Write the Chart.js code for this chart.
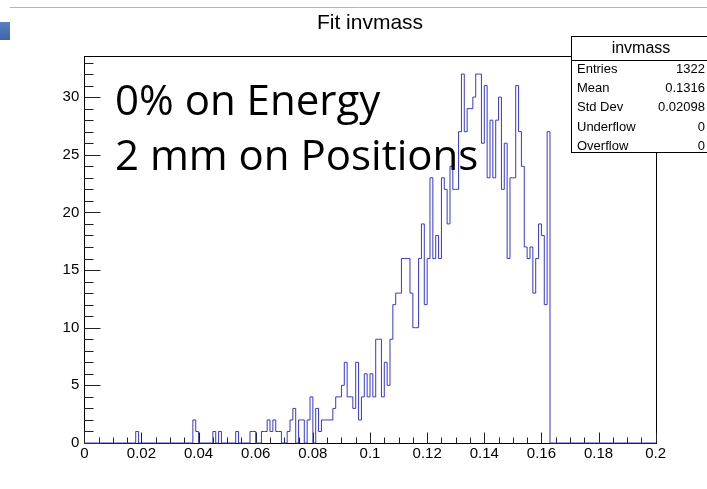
<!DOCTYPE html>
<html>
<head>
<meta charset="utf-8">
<script src="https://cdn.jsdelivr.net/npm/chart.js@4.4.1/dist/chart.umd.min.js"></script>
<style>
  html, body { margin: 0; padding: 0; background: #ffffff; }
  #wrap { width: 707px; height: 489px; position: relative; }
</style>
</head>
<body>
<div id="wrap"><canvas id="c" width="707" height="489"></canvas></div>
<script>
// Histogram definition: 200 bins of width 0.001 between 0 and 0.2
const histTitle = 'Fit invmass';
const histName = 'invmass';
const xMin = 0;
const xMax = 0.2;
const nBins = 200;

// Bin contents, 10 bins per row
const counts = [
  0, 0, 0, 0, 0, 0, 0, 0, 0, 0,
  0, 0, 0, 0, 0, 0, 0, 0, 1, 0,
  0, 0, 0, 0, 0, 0, 0, 0, 0, 0,
  0, 0, 0, 0, 0, 0, 0, 0, 2, 1,
  0, 0, 0, 0, 0, 1, 0, 1, 0, 0,
  0, 0, 0, 1, 0, 0, 0, 0, 1, 1,
  0, 0, 1, 1, 2, 1, 2, 1, 1, 0,
  0, 1, 2, 3, 0, 2, 2, 0, 2, 4,
  0, 3, 1, 2, 2, 2, 2, 3, 4, 4,
  5, 7, 4, 4, 3, 7, 2, 4, 6, 4,
  6, 4, 9, 9, 4, 7, 5, 9, 12, 13,
  13, 16, 16, 16, 13, 10, 10, 16, 19, 12,
  16, 23, 16, 18, 16, 23, 22, 19, 24, 22,
  22, 27, 32, 27, 29, 29, 30, 32, 32, 26,
  31, 23, 28, 23, 28, 30, 22, 26, 16, 23,
  23, 31, 27, 24, 17, 16, 17, 13, 16, 19,
  18, 12, 27, 0, 0, 0, 0, 0, 0, 0,
  0, 0, 0, 0, 0, 0, 0, 0, 0, 0,
  0, 0, 0, 0, 0, 0, 0, 0, 0, 0,
  0, 0, 0, 0, 0, 0, 0, 0, 0, 0
];

// Axis ranges and tick divisions
const yMax = 33.6;
const xMajorStep = 0.02;
const xMinorStep = 0.005;
const yMajorStep = 5;
const yMinorStep = 1;

// Statistics box
const statLabels = ['Entries', 'Mean', 'Std Dev', 'Underflow', 'Overflow'];
const statValues = ['1322', '0.1316', '0.02098', '0', '0'];

// Annotation lines
const noteLines = ['0% on Energy', '2 mm on Positions'];

const AXIS_FONT = '"Liberation Sans", Arial, Helvetica, sans-serif';
const HIST_COLOR = '#3838c4';

// Step outline: one point at each bin's low edge, plus the upper edge of the last bin.
// With stepped 'before' the segment towards the next edge keeps the current bin's height.
const binWidth = (xMax - xMin) / nBins;
const stepPoints = counts.map((v, i) => ({ x: xMin + i * binWidth, y: v }));
stepPoints.push({ x: xMax, y: counts[counts.length - 1] });

// Frame, inward tick marks and page decorations
const frameAndTicks = {
  id: 'frameAndTicks',
  beforeDraw(chart) {
    const ctx = chart.ctx;
    ctx.save();
    ctx.fillStyle = '#ffffff';
    ctx.fillRect(0, 0, chart.width, chart.height);
    // window edge line and side tab
    ctx.strokeStyle = '#b4b4b4';
    ctx.lineWidth = 1;
    ctx.beginPath();
    ctx.moveTo(10, 7.5);
    ctx.lineTo(chart.width, 7.5);
    ctx.stroke();
    const g = ctx.createLinearGradient(0, 22, 0, 40);
    g.addColorStop(0, '#5b7fc2');
    g.addColorStop(1, '#3f63a8');
    ctx.fillStyle = g;
    ctx.fillRect(0, 22, 10, 18);
    ctx.restore();
  },
  beforeDatasetsDraw(chart) {
    const { ctx, chartArea: a, scales } = chart;
    const xs = scales.x, ys = scales.y;
    ctx.save();
    ctx.strokeStyle = '#000000';
    ctx.lineWidth = 1;
    const L = Math.round(a.left) + 0.5, R = Math.round(a.right) + 0.5;
    const T = Math.round(a.top) + 0.5, B = Math.round(a.bottom) + 0.5;
    ctx.strokeRect(L, T, R - L, B - T);

    ctx.strokeStyle = '#222222';
    ctx.beginPath();
    const nx = Math.round((xMax - xMin) / xMinorStep);
    const perMajorX = Math.round(xMajorStep / xMinorStep);
    for (let k = 0; k <= nx; k++) {
      const px = Math.round(xs.getPixelForValue(xMin + k * xMinorStep)) + 0.5;
      const len = (k % perMajorX === 0) ? 11 : 6;
      ctx.moveTo(px, B);
      ctx.lineTo(px, B - len);
    }
    const ny = Math.floor(yMax / yMinorStep);
    for (let k = 0; k <= ny; k++) {
      const v = k * yMinorStep;
      const py = Math.round(ys.getPixelForValue(v)) + 0.5;
      const len = (v % yMajorStep === 0) ? 16 : 9;
      ctx.moveTo(L, py);
      ctx.lineTo(L + len, py);
    }
    ctx.stroke();
    ctx.restore();
  },
  afterDraw(chart) {
    const ctx = chart.ctx;
    ctx.save();
    // histogram title
    ctx.fillStyle = '#000000';
    ctx.font = '21px ' + AXIS_FONT;
    ctx.textAlign = 'center';
    ctx.textBaseline = 'middle';
    ctx.fillText(histTitle, 370, 23);

    // statistics box
    const bx = 571.5, by = 36.5, bw = 150, bh = 116;
    ctx.fillStyle = '#ffffff';
    ctx.fillRect(bx, by, bw, bh);
    ctx.strokeStyle = '#000000';
    ctx.lineWidth = 1;
    ctx.strokeRect(bx, by, bw, bh);
    ctx.beginPath();
    ctx.moveTo(bx, 60.5);
    ctx.lineTo(bx + bw, 60.5);
    ctx.stroke();
    ctx.fillStyle = '#000000';
    ctx.font = '16px ' + AXIS_FONT;
    ctx.textAlign = 'center';
    ctx.fillText(histName, 641, 48.5);
    ctx.font = '13px ' + AXIS_FONT;
    const rowY = [69, 88, 107.5, 127, 146];
    statLabels.forEach((lab, i) => {
      ctx.textAlign = 'left';
      ctx.fillText(lab, 577, rowY[i]);
      ctx.textAlign = 'right';
      ctx.fillText(statValues[i], 705, rowY[i]);
    });

    // annotation text
    ctx.font = '42px "Open Sans", "Noto Sans", sans-serif';
    ctx.textAlign = 'left';
    ctx.textBaseline = 'alphabetic';
    ctx.fillText(noteLines[0], 115, 115);
    ctx.fillText(noteLines[1], 115, 170);
    ctx.restore();
  }
};

new Chart(document.getElementById('c'), {
  type: 'line',
  data: {
    datasets: [{
      label: histName,
      data: stepPoints,
      stepped: 'before',
      borderColor: HIST_COLOR,
      borderWidth: 1,
      pointRadius: 0,
      fill: false,
      clip: 3
    }]
  },
  options: {
    responsive: false,
    animation: false,
    devicePixelRatio: 1,
    parsing: false,
    layout: { padding: { top: 55.6, right: 51.3, left: 0, bottom: 0 } },
    plugins: {
      legend: { display: false },
      title: { display: false },
      tooltip: { enabled: false }
    },
    scales: {
      x: {
        type: 'linear',
        min: xMin,
        max: xMax,
        afterFit: s => { s.height = 46; },
        grid: { display: false, drawTicks: false },
        border: { display: false },
        ticks: {
          stepSize: xMajorStep,
          padding: 2,
          color: '#000000',
          font: { family: AXIS_FONT, size: 15 },
          maxRotation: 0,
          autoSkip: false,
          callback: v => String(+(+v).toFixed(4))
        }
      },
      y: {
        type: 'linear',
        min: 0,
        max: yMax,
        afterFit: s => { s.width = 84.3; },
        afterBuildTicks: s => {
          s.ticks = s.ticks.filter(t => Math.abs(t.value / yMajorStep - Math.round(t.value / yMajorStep)) < 1e-9);
        },
        grid: { display: false, drawTicks: false },
        border: { display: false },
        ticks: {
          stepSize: yMajorStep,
          padding: 5,
          color: '#000000',
          font: { family: AXIS_FONT, size: 15 },
          autoSkip: false
        }
      }
    }
  },
  plugins: [frameAndTicks]
});
</script>
</body>
</html>
